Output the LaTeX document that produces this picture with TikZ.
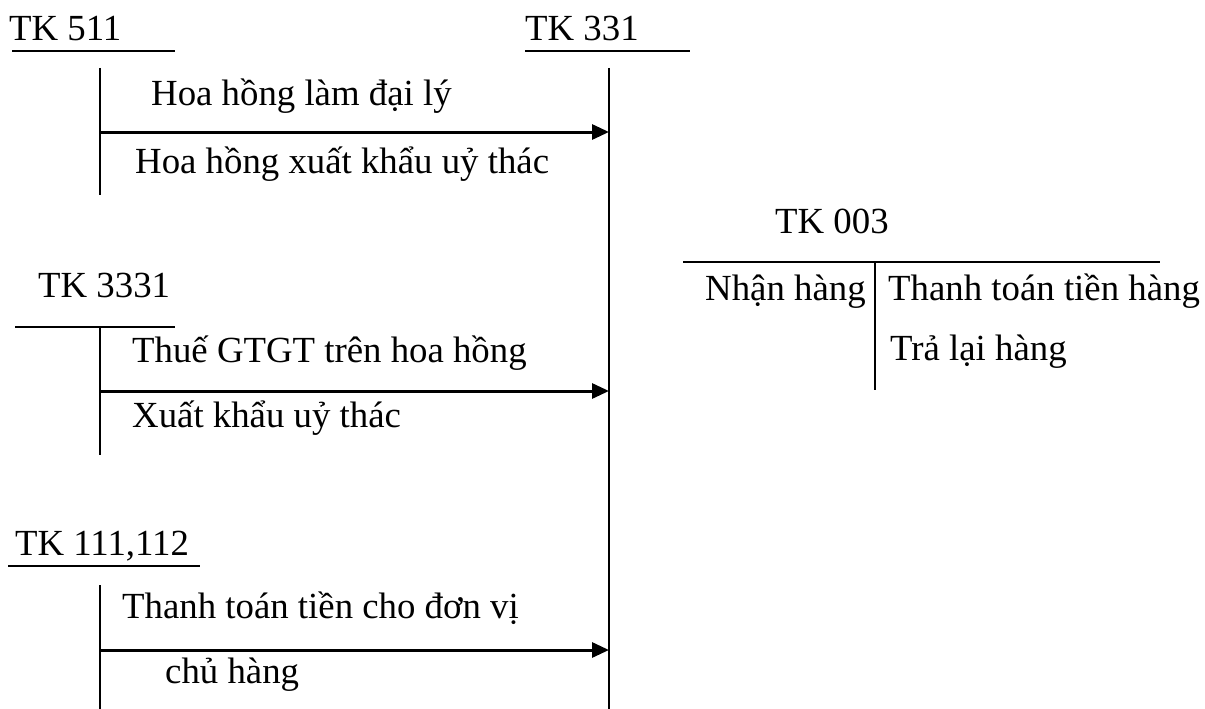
\documentclass[tikz,border=0pt]{standalone}
\usepackage{fontspec}
\setmainfont{Liberation Serif}
\usetikzlibrary{arrows.meta}
\begin{document}
\begin{tikzpicture}[x=1pt,y=-1pt,
  lbl/.style={anchor=base west,inner sep=0pt,font=\fontsize{36.8}{44}\selectfont},
  rule/.style={line width=1.6pt},
  flow/.style={line width=3pt,-{Triangle[length=17pt,width=15pt]}}]
\useasboundingbox (0,0) rectangle (1205,709);

% account headings
\node[lbl] (t511) at (9,41) {TK 511};
\node[lbl] (t331) at (525,41) {TK 331};
\node[lbl] (t3331) at (38,297) {TK 3331};
\node[lbl] (t111) at (15,555) {TK 111,112};
\node[lbl] (t003) at (775,233) {TK 003};

% T-account rules
\draw[rule] (12,51) -- (175,51);
\draw[rule] (525,51) -- (690,51);
\draw[rule] (15,327) -- (175,327);
\draw[rule] (8,566) -- (200,566);
\draw[rule] (683,262) -- (1160,262);

\coordinate (a1) at (100,68);  \coordinate (a1e) at (100,195);
\coordinate (b1) at (609,68);  \coordinate (b1e) at (609,709);
\coordinate (a2) at (100,327); \coordinate (a2e) at (100,455);
\coordinate (a3) at (100,585); \coordinate (a3e) at (100,709);
\coordinate (c1) at (875,262); \coordinate (c1e) at (875,390);
\draw[rule] (a1) -- (a1e);
\draw[rule] (b1) -- (b1e);
\draw[rule] (a2) -- (a2e);
\draw[rule] (a3) -- (a3e);
\draw[rule] (c1) -- (c1e);

% postings into TK 331
\coordinate (s1) at (100,132); \coordinate (e1) at (609,132);
\coordinate (s2) at (100,391); \coordinate (e2) at (609,391);
\coordinate (s3) at (100,650); \coordinate (e3) at (609,650);
\draw[flow] (s1) -- (e1);
\draw[flow] (s2) -- (e2);
\draw[flow] (s3) -- (e3);

% entry descriptions
\node[lbl] (d1) at (151,105) {Hoa hồng làm đại lý};
\node[lbl] (d2) at (135,173) {Hoa hồng xuất khẩu uỷ thác};
\node[lbl] (d3) at (132,362) {Thuế GTGT trên hoa hồng};
\node[lbl] (d4) at (132,427) {Xuất khẩu uỷ thác};
\node[lbl] (d5) at (122,618) {Thanh toán tiền cho đơn vị};
\node[lbl] (d6) at (165,683) {chủ hàng};

% off-balance account TK 003
\node[lbl] (n1) at (705,300) {Nhận hàng};
\node[lbl] (n2) at (888,300) {Thanh toán tiền hàng};
\node[lbl] (n3) at (890,360) {Trả lại hàng};
\end{tikzpicture}
\end{document}
